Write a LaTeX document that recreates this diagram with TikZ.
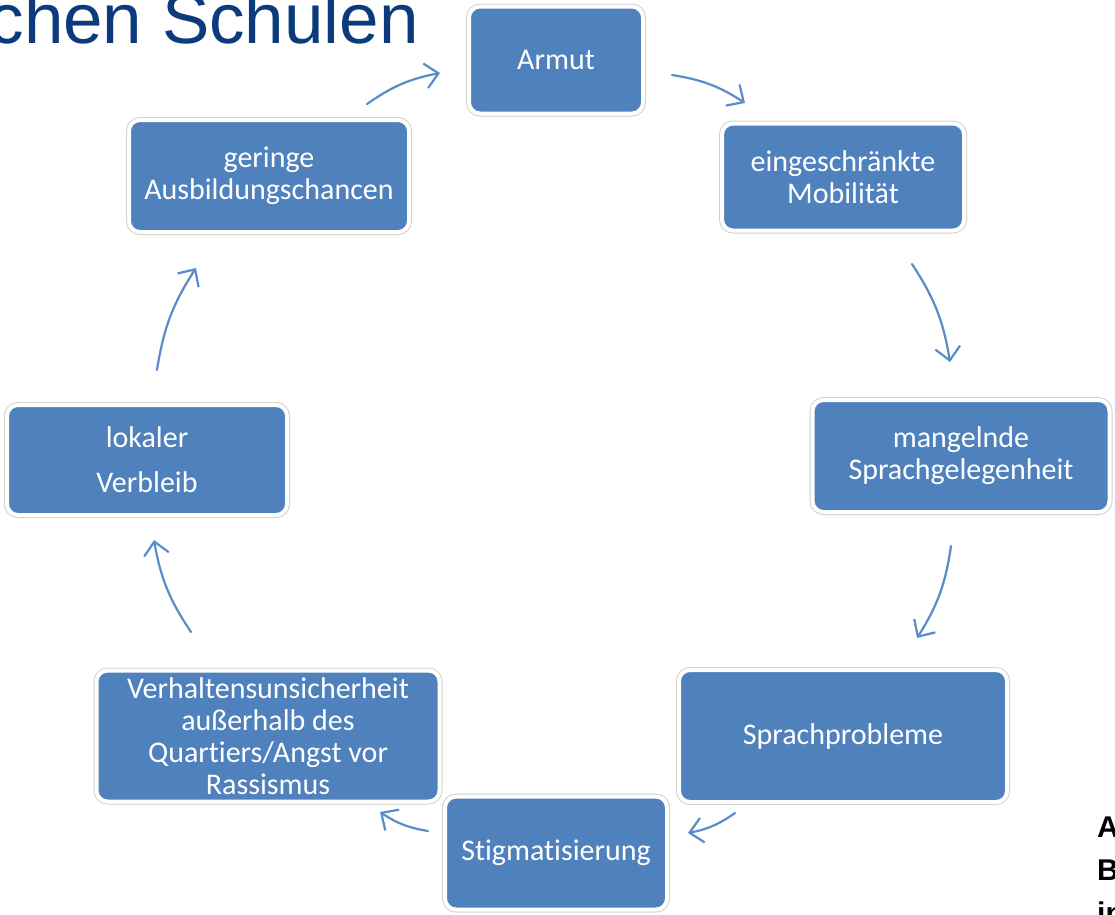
\documentclass[tikz,border=0pt]{standalone}
\usepackage{fontspec}
\setmainfont{Carlito}[Ligatures=NoCommon]
\newfontfamily\titelfont{Liberation Sans}
\usepackage{tikz}
\usetikzlibrary{arrows.meta}
\definecolor{boxblau}{HTML}{4F81BD}
\definecolor{pfeilblau}{HTML}{5B8BC8}
\definecolor{titelblau}{HTML}{0B3B7C}

\tikzset{
    zyklus/.style={rectangle, rounded corners=11pt, fill=boxblau, draw=white,
        line width=4pt, preaction={draw=black!18, line width=6pt},
        text=white, align=center, inner sep=0pt,
        font=\fontsize{30}{32}\selectfont},
    pfeil/.style={draw=pfeilblau, line width=2.2pt, line cap=round,
        -{Straight Barb[length=13pt,width=25pt]}, bend left=12},
}

\begin{document}
\begin{tikzpicture}[x=1pt,y=1pt]
        \useasboundingbox (0,0) rectangle (1115,-914);
        \clip (0,0) rectangle (1115,-914);

        %% Titel und Randtext
        \node[anchor=base east, inner sep=0pt, text=titelblau,
              font=\titelfont\fontsize{71}{80}\selectfont] (titel) at (419,-43) {chen Schulen};
        \node[anchor=base west, inner sep=0pt, font=\titelfont\bfseries\fontsize{30}{36}\selectfont] (rand1) at (1097,-837) {A};
        \node[anchor=base west, inner sep=0pt, font=\titelfont\bfseries\fontsize{30}{36}\selectfont] (rand2) at (1097,-880) {B};
        \node[anchor=base west, inner sep=0pt, font=\titelfont\bfseries\fontsize{30}{36}\selectfont] (rand3) at (1097,-923) {in};

        %% Kreislauf
        \node[zyklus, minimum width=174pt, minimum height=107pt] (armut) at (556,-60) {Armut};
        \node[zyklus, minimum width=242pt, minimum height=107pt] (mobil) at (843,-177) {eingeschränkte\\Mobilität};
        \node[zyklus, minimum width=297pt, minimum height=112pt] (gelegenheit) at (961,-456) {mangelnde\\Sprachgelegenheit};
        \node[zyklus, minimum width=328pt, minimum height=132pt] (probleme) at (843,-736) {Sprachprobleme};
        \node[zyklus, minimum width=222pt, minimum height=113pt] (stigma) at (556,-853) {Stigmatisierung};
        \node[zyklus, minimum width=343pt, minimum height=131pt] (verhalten) at (268,-736)
            {Verhaltensunsicherheit\\außerhalb des\\Quartiers/Angst vor\\Rassismus};
        \node[zyklus, minimum width=280pt, minimum height=110pt] (verbleib) at (147,-460) {lokaler\\[13pt]Verbleib};
        \node[zyklus, minimum width=280pt, minimum height=112pt] (ausbildung) at (269,-176) {geringe\\Ausbildungschancen};

        %% Pfeile zwischen den Kaesten
        \coordinate (p1a) at (672,-75);  \coordinate (p1b) at (745,-103);
        \coordinate (p2a) at (912,-264); \coordinate (p2b) at (950,-362);
        \coordinate (p3a) at (951,-546); \coordinate (p3b) at (917,-638);
        \coordinate (p4a) at (735,-813); \coordinate (p4b) at (688,-833);
        \coordinate (p5a) at (428,-831); \coordinate (p5b) at (380,-812);
        \coordinate (p6a) at (191,-632); \coordinate (p6b) at (154,-540);
        \coordinate (p7a) at (157,-370); \coordinate (p7b) at (196,-268);
        \coordinate (p8a) at (367,-104); \coordinate (p8b) at (440,-73);

        \draw[pfeil] (p1a) to (p1b);
        \draw[pfeil] (p2a) to (p2b);
        \draw[pfeil] (p3a) to (p3b);
        \draw[pfeil] (p4a) to (p4b);
        \draw[pfeil] (p5a) to (p5b);
        \draw[pfeil] (p6a) to (p6b);
        \draw[pfeil] (p7a) to (p7b);
        \draw[pfeil] (p8a) to (p8b);
    \end{tikzpicture}
\end{document}
